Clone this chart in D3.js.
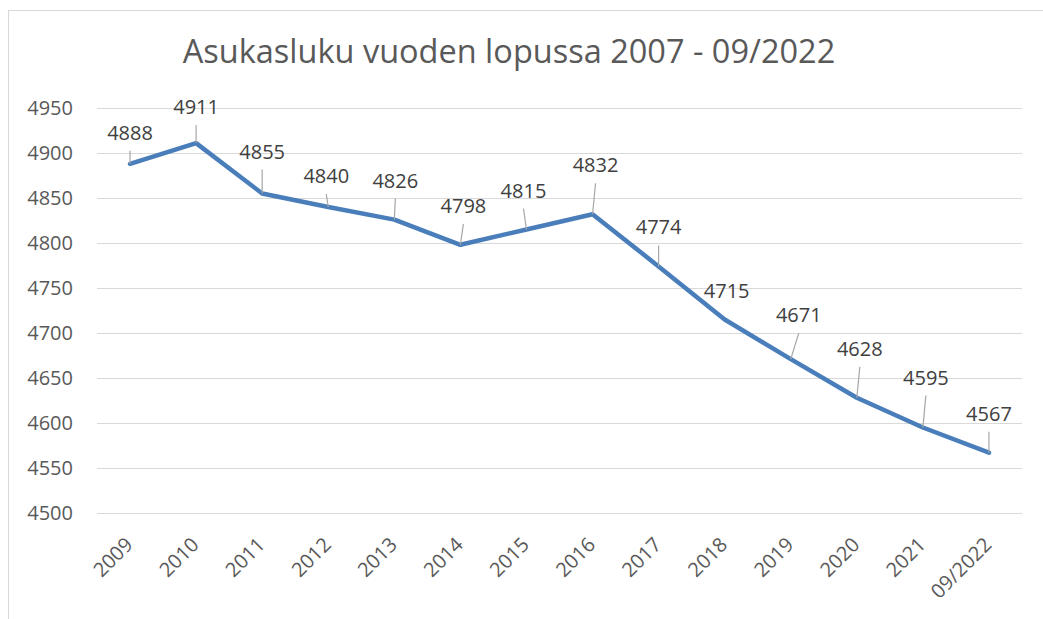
<!DOCTYPE html>
<html>
<head>
<meta charset="utf-8">
<script src="https://cdn.jsdelivr.net/npm/d3@7"></script>
<style>
  body { margin: 0; background: #fff; }
  svg text { font-family: "Open Sans", sans-serif; }
</style>
</head>
<body>
<svg id="chart"></svg>
<script>
const width = 1043;
const height = 619;
const margin = {left: 97, right: 21, top: 108, bottom: 106};

// data
const years = ['2009', '2010', '2011', '2012', '2013', '2014', '2015', '2016',
  '2017', '2018', '2019', '2020', '2021', '09/2022'];
const residents = [4888, 4911, 4855, 4840, 4826, 4798, 4815, 4832,
  4774, 4715, 4671, 4628, 4595, 4567];
const yTicks = [4500, 4550, 4600, 4650, 4700, 4750, 4800, 4850, 4900, 4950];

// label placement (manual offsets like the original, px from the point)
const labelDx = [0, 0, 0, -2, 1, 3, -3, 3, 0, 2, 8, 3, 3, 0];
const labelDy = [-24, -29, -35, -24, -32, -32, -32, -42, -32, -22, -37, -42, -43, -32];
const hasLeader = [1, 1, 1, 1, 1, 1, 1, 1, 1, 0, 1, 1, 1, 1];

const svg = d3.select('#chart')
  .attr('width', width)
  .attr('height', height);

// chart area border
svg.append('rect')
  .attr('x', 8.5)
  .attr('y', 10.5)
  .attr('width', width)
  .attr('height', height)
  .attr('fill', 'none')
  .attr('stroke', '#d9d9d9');

svg.append('text')
  .attr('x', 509)
  .attr('y', 63)
  .attr('text-anchor', 'middle')
  .attr('font-size', 32.5)
  .attr('fill', '#595959')
  .text('Asukasluku vuoden lopussa 2007 - 09/2022');

const g = svg.append('g')
  .attr('transform', `translate(${margin.left}, ${margin.top})`);

const plotW = width - margin.left - margin.right;
const plotH = height - margin.top - margin.bottom;

const xScale = d3.scaleBand()
  .domain(years)
  .range([0, plotW]);

const yScale = d3.scaleLinear()
  .domain([4500, 4950])
  .range([plotH, 0]);

// gridlines + y labels
const yAxis = d3.axisLeft(yScale)
  .tickValues(yTicks)
  .tickSize(-plotW)
  .tickPadding(24)
  .tickFormat(d3.format('d'));

g.append('g')
  .call(yAxis)
  .call(ax => ax.select('.domain').remove())
  .call(ax => ax.selectAll('line').attr('stroke', '#d9d9d9').attr('stroke-width', 1.2))
  .call(ax => ax.selectAll('text')
    .attr('font-size', 20)
    .attr('fill', '#595959')
    .attr('font-family', '"Open Sans", sans-serif'));

// x labels
const xAxis = d3.axisBottom(xScale).tickSize(0);

g.append('g')
  .attr('transform', `translate(0, ${plotH})`)
  .call(xAxis)
  .call(ax => ax.select('.domain').remove())
  .call(ax => ax.selectAll('text')
    .attr('font-size', 20)
    .attr('fill', '#595959')
    .attr('font-family', '"Open Sans", sans-serif')
    .attr('text-anchor', 'end')
    .attr('dy', null)
    .attr('y', 0)
    .attr('transform', 'translate(4, 33) rotate(-45)'));

const points = residents.map((v, i) => ({year: years[i], value: v, i: i}));
const px = d => xScale(d.year) + xScale.bandwidth() / 2;

const line = d3.line()
  .x(px)
  .y(d => yScale(d.value));

g.append('path')
  .datum(points)
  .attr('d', line)
  .attr('fill', 'none')
  .attr('stroke', '#4a7ebb')
  .attr('stroke-width', 4.5)
  .attr('stroke-linejoin', 'round')
  .attr('stroke-linecap', 'round');

// leader lines
g.selectAll('.leader')
  .data(points.filter(d => hasLeader[d.i]))
  .enter()
  .append('line')
  .attr('class', 'leader')
  .attr('x1', d => px(d) + labelDx[d.i])
  .attr('y1', d => yScale(d.value) + labelDy[d.i] + 11)
  .attr('x2', d => px(d))
  .attr('y2', d => yScale(d.value))
  .attr('stroke', '#a6a6a6')
  .attr('stroke-width', 1.2);

// data labels
g.selectAll('.label')
  .data(points)
  .enter()
  .append('text')
  .attr('class', 'label')
  .attr('x', d => px(d) + labelDx[d.i])
  .attr('y', d => yScale(d.value) + labelDy[d.i])
  .attr('text-anchor', 'middle')
  .attr('font-size', 20)
  .attr('fill', '#404040')
  .text(d => d.value);
</script>
</body>
</html>
